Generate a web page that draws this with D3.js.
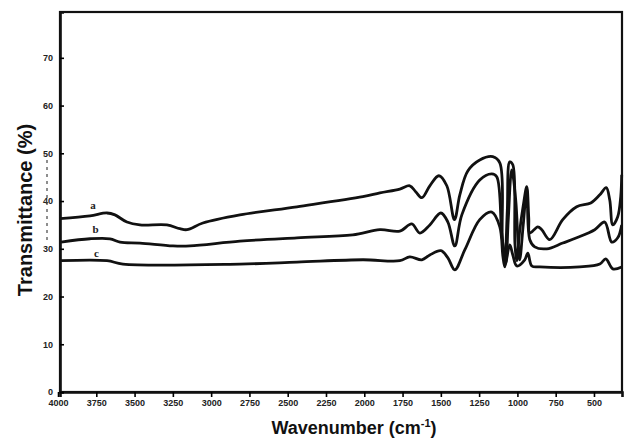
<!DOCTYPE html>
<html>
<head>
<meta charset="utf-8">
<script src="https://cdn.jsdelivr.net/npm/d3@7"></script>
<style>
  body { margin: 0; background: #fff; }
  svg { display: block; }
  .tick text { font-family: "Liberation Sans", Arial, sans-serif; font-weight: bold; fill: #222; }
</style>
</head>
<body>
<div id="chart"></div>
<script>
// tick labels (scan is blurry, these are the usual values)
var xTicks = [4000, 3750, 3500, 3250, 3000, 2750, 2500, 2250, 2000, 1750, 1500, 1250, 1000, 750, 500];
var yTicks = [0, 10, 20, 30, 40, 50, 60, 70];

// series: [wavenumber, transmittance]
var seriesA = [
  [3987, 36.3], [3791, 36.9], [3680, 37.5], [3628, 37.1], [3550, 35.6], [3465, 35.0],
  [3289, 35.0], [3204, 34.2], [3158, 34.0], [3054, 35.4], [2812, 37.1], [2440, 38.8],
  [2009, 40.9], [1898, 41.7], [1768, 42.5], [1703, 43.2], [1663, 41.9], [1624, 40.7],
  [1572, 43.2], [1513, 45.3], [1461, 43.2], [1411, 36.1], [1376, 41.3], [1324, 46.3],
  [1246, 48.6], [1161, 49.3], [1115, 48.0], [1098, 32.0], [1082, 27.5], [1066, 38.0],
  [1050, 48.2], [1030, 47.6], [1016, 31.0], [1004, 27.5], [986, 33.5], [962, 39.0],
  [939, 43.0], [926, 36.5], [919, 33.3], [867, 34.6], [841, 34.0],
  [789, 31.9], [704, 36.1], [613, 38.8], [521, 39.6], [462, 41.3], [420, 42.8],
  [397, 40.2], [377, 35.0], [345, 36.7], [325, 41.0], [319, 45.5]
];
var seriesB = [
  [3980, 31.4], [3791, 32.1], [3661, 32.1], [3595, 31.4], [3465, 31.2], [3249, 30.6],
  [3138, 30.6], [2812, 31.6], [2440, 32.3], [2075, 32.9], [1898, 34.0], [1768, 33.7],
  [1690, 35.2], [1637, 33.3], [1572, 35.0], [1500, 37.5], [1454, 35.6], [1409, 30.6],
  [1363, 37.1], [1246, 44.4], [1167, 45.7], [1135, 45.1], [1102, 33.0], [1076, 27.0],
  [1060, 36.0], [1037, 46.5], [1011, 40.2], [995, 31.0], [985, 27.7], [962, 35.0],
  [939, 42.3], [919, 31.9], [887, 30.4], [808, 30.0],
  [704, 31.2], [613, 32.3], [495, 34.0], [430, 35.6], [384, 31.4], [345, 32.3], [319, 35.0]
];
var seriesC = [
  [3980, 27.5], [3680, 27.5], [3576, 26.8], [2812, 26.8], [2440, 27.2], [2009, 27.7],
  [1768, 27.5], [1703, 28.3], [1624, 27.7], [1572, 28.7], [1500, 29.6], [1454, 28.1],
  [1409, 25.6], [1343, 29.8], [1246, 36.1], [1167, 37.7], [1115, 34.6], [1095, 28.5],
  [1082, 26.2], [1050, 30.8], [1030, 28.7], [1004, 26.4], [952, 27.7], [932, 29.1],
  [906, 26.4], [854, 26.2], [593, 26.2], [462, 26.8], [423, 27.9], [377, 25.8], [319, 26.2]
];
var seriesNames = ["a", "b", "c"];
var labelPos = [[3790, 38.3], [3775, 33.3], [3765, 28.3]];

var width = 632, height = 445;

var svg = d3.select("#chart").append("svg")
  .attr("width", width)
  .attr("height", height);

var x = d3.scaleLinear().domain([3987, 317]).range([60, 622]);
var y = d3.scaleLinear().domain([0, 79.6]).range([392, 12]);

// frame
svg.append("rect")
  .attr("x", x(3987)).attr("y", y(79.6))
  .attr("width", x(317) - x(3987)).attr("height", y(0) - y(79.6))
  .attr("fill", "none").attr("stroke", "#111").attr("stroke-width", 2.2);

// axes
var xAxis = svg.append("g")
  .attr("transform", "translate(0," + y(0) + ")")
  .call(d3.axisBottom(x).tickValues(xTicks).tickFormat(d3.format("d")).tickSize(5).tickPadding(3));
xAxis.select(".domain").attr("stroke-width", 2.6).attr("stroke", "#111");
xAxis.selectAll(".tick line").attr("stroke-width", 1.6);
xAxis.selectAll(".tick text").attr("font-size", 9);

var yAxis = svg.append("g")
  .attr("transform", "translate(" + x(3987) + ",0)")
  .call(d3.axisLeft(y).tickValues(yTicks).tickSize(-4).tickPadding(7));
yAxis.select(".domain").attr("stroke-width", 2.6).attr("stroke", "#111");
yAxis.selectAll(".tick line").attr("stroke-width", 1.6);
yAxis.selectAll(".tick text").attr("font-size", 9);

// the dashed bracket left of the axis in the scan
svg.append("line")
  .attr("x1", 47).attr("x2", 47).attr("y1", 160).attr("y2", 240)
  .attr("stroke", "#444").attr("stroke-width", 1.2).attr("stroke-dasharray", "3,4");

// spectra
var line = d3.line()
  .x(function(d) { return x(d[0]); })
  .y(function(d) { return y(d[1]); })
  .curve(d3.curveCatmullRom.alpha(0.5));

[seriesA, seriesB, seriesC].forEach(function(s) {
  svg.append("path")
    .datum(s)
    .attr("d", line)
    .attr("fill", "none")
    .attr("stroke", "#111")
    .attr("stroke-width", 2.8)
    .attr("stroke-linejoin", "round");
});

// curve letters
svg.selectAll(".lbl")
  .data(seriesNames)
  .enter().append("text")
  .attr("class", "lbl")
  .attr("x", function(d, i) { return x(labelPos[i][0]); })
  .attr("y", function(d, i) { return y(labelPos[i][1]); })
  .attr("font-family", "Liberation Serif, serif")
  .attr("font-weight", "bold")
  .attr("font-size", 11)
  .attr("fill", "#222")
  .text(function(d) { return d; });

// titles
var xt = svg.append("text")
  .attr("x", 354).attr("y", 434)
  .attr("text-anchor", "middle")
  .attr("font-family", "Liberation Sans, Arial, sans-serif")
  .attr("font-weight", "bold")
  .attr("font-size", 18)
  .attr("fill", "#111");
xt.append("tspan").text("Wavenumber (cm");
xt.append("tspan").attr("font-size", 11).attr("dy", -7).text("-1");
xt.append("tspan").attr("dy", 7).text(")");

svg.append("text")
  .attr("transform", "translate(32,210) rotate(-90)")
  .attr("text-anchor", "middle")
  .attr("font-family", "Liberation Sans, Arial, sans-serif")
  .attr("font-weight", "bold")
  .attr("font-size", 20)
  .attr("fill", "#111")
  .text("Transmittance (%)");
</script>
</body>
</html>
